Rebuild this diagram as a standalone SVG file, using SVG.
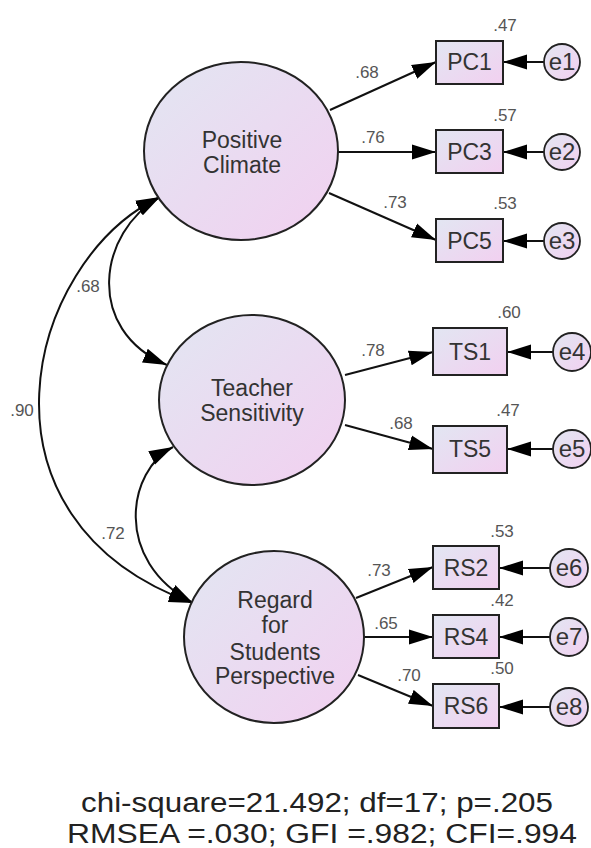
<svg xmlns="http://www.w3.org/2000/svg" width="591" height="848" viewBox="0 0 591 848">
<defs>
<linearGradient id="fillg" x1="0" y1="0" x2="1" y2="1">
<stop offset="0" stop-color="#e2e6f2"/>
<stop offset="1" stop-color="#f2d0f0"/>
</linearGradient>
<marker id="ah" markerUnits="userSpaceOnUse" markerWidth="24" markerHeight="16" refX="24" refY="8" orient="auto-start-reverse">
<path d="M0,0.5 L24,8 L0,15.5 z" fill="#000"/>
</marker>
</defs>
<style>
.lat{fill:url(#fillg);stroke:#222;stroke-width:2}
.obs{fill:url(#fillg);stroke:#222;stroke-width:2}
.err{fill:url(#fillg);stroke:#222;stroke-width:1.8}
.ln{fill:none;stroke:#111;stroke-width:2}
.lt{font-family:"Liberation Sans",Arial,sans-serif;font-size:23px;fill:#333;text-anchor:middle}
.bt{font-family:"Liberation Sans",Arial,sans-serif;font-size:23px;fill:#333;text-anchor:middle}
.et{font-family:"Liberation Sans",Arial,sans-serif;font-size:24px;fill:#333;text-anchor:middle}
.num{font-family:"Liberation Sans",Arial,sans-serif;font-size:17px;fill:#555;text-anchor:middle}
.fit{font-family:"Liberation Sans",Arial,sans-serif;font-size:27px;fill:#222;text-anchor:start}
</style>

<g id="connectors">
<path class="ln" marker-end="url(#ah)" d="M330,110 L436,62"/>
<path class="ln" marker-end="url(#ah)" d="M338,152 L436,152"/>
<path class="ln" marker-end="url(#ah)" d="M329,193 L436,240"/>
<path class="ln" marker-end="url(#ah)" d="M345,375 L433,352"/>
<path class="ln" marker-end="url(#ah)" d="M345,425 L433,449"/>
<path class="ln" marker-end="url(#ah)" d="M356,598 L433,567"/>
<path class="ln" marker-end="url(#ah)" d="M364,637 L433,637"/>
<path class="ln" marker-end="url(#ah)" d="M358,675 L433,706"/>
<path class="ln" marker-end="url(#ah)" d="M544,62 L503,62"/>
<path class="ln" marker-end="url(#ah)" d="M544,152 L503,152"/>
<path class="ln" marker-end="url(#ah)" d="M544,241 L503,241"/>
<path class="ln" marker-end="url(#ah)" d="M553,352 L507,352"/>
<path class="ln" marker-end="url(#ah)" d="M553,449 L507,449"/>
<path class="ln" marker-end="url(#ah)" d="M550,568 L499,568"/>
<path class="ln" marker-end="url(#ah)" d="M550,637 L499,637"/>
<path class="ln" marker-end="url(#ah)" d="M550,707 L499,707"/>
<path class="ln" marker-start="url(#ah)" marker-end="url(#ah)" d="M160,197 C98,232 84,330 167,365"/>
<path class="ln" marker-start="url(#ah)" marker-end="url(#ah)" d="M160,197 C25,262 -38,520 193,603"/>
<path class="ln" marker-start="url(#ah)" marker-end="url(#ah)" d="M173,447 C128,470 112,560 193,603"/>
<text class="num" x="367" y="78">.68</text>
<text class="num" x="373" y="143">.76</text>
<text class="num" x="395" y="208">.73</text>
<text class="num" x="373" y="356">.78</text>
<text class="num" x="401" y="429">.68</text>
<text class="num" x="379" y="576">.73</text>
<text class="num" x="386" y="629">.65</text>
<text class="num" x="409" y="681">.70</text>
<text class="num" x="88" y="292">.68</text>
<text class="num" x="22" y="416">.90</text>
<text class="num" x="113" y="539">.72</text>
</g>

<g id="PositiveClimate">
<ellipse class="lat" cx="241" cy="151" rx="97" ry="89"/>
<text class="lt" x="242" y="148">Positive</text>
<text class="lt" x="242" y="173">Climate</text>
</g>
<g id="TeacherSensitivity">
<ellipse class="lat" cx="252" cy="400" rx="93" ry="85"/>
<text class="lt" x="252" y="396">Teacher</text>
<text class="lt" x="252" y="421">Sensitivity</text>
</g>
<g id="RegardForStudentsPerspective">
<ellipse class="lat" cx="274" cy="637" rx="90" ry="86"/>
<text class="lt" x="275" y="608">Regard</text>
<text class="lt" x="275" y="633">for</text>
<text class="lt" x="275" y="660">Students</text>
<text class="lt" x="275" y="684">Perspective</text>
</g>

<g id="PC1"><rect class="obs" x="436" y="41" width="67" height="43"/><text class="bt" x="469.5" y="70">PC1</text><text class="num" x="505" y="31">.47</text></g>
<g id="PC3"><rect class="obs" x="436" y="130" width="67" height="43"/><text class="bt" x="469.5" y="160">PC3</text><text class="num" x="505" y="121">.57</text></g>
<g id="PC5"><rect class="obs" x="436" y="219" width="67" height="43"/><text class="bt" x="469.5" y="249">PC5</text><text class="num" x="505" y="209">.53</text></g>
<g id="TS1"><rect class="obs" x="433" y="328" width="74" height="47"/><text class="bt" x="470" y="360">TS1</text><text class="num" x="509" y="318">.60</text></g>
<g id="TS5"><rect class="obs" x="433" y="426" width="74" height="47"/><text class="bt" x="470" y="457">TS5</text><text class="num" x="508" y="416">.47</text></g>
<g id="RS2"><rect class="obs" x="433" y="546" width="66" height="43"/><text class="bt" x="466" y="576">RS2</text><text class="num" x="502" y="537">.53</text></g>
<g id="RS4"><rect class="obs" x="433" y="615" width="66" height="43"/><text class="bt" x="466" y="645">RS4</text><text class="num" x="502" y="606">.42</text></g>
<g id="RS6"><rect class="obs" x="433" y="684" width="66" height="44"/><text class="bt" x="466" y="714">RS6</text><text class="num" x="502" y="674">.50</text></g>

<g id="e1"><circle class="err" cx="562" cy="62" r="18"/><text class="et" x="562" y="70">e1</text></g>
<g id="e2"><circle class="err" cx="562" cy="152" r="18"/><text class="et" x="562" y="160">e2</text></g>
<g id="e3"><circle class="err" cx="562" cy="241" r="18"/><text class="et" x="562" y="249">e3</text></g>
<g id="e4"><circle class="err" cx="572" cy="352" r="19"/><text class="et" x="572" y="360">e4</text></g>
<g id="e5"><circle class="err" cx="572" cy="449" r="19"/><text class="et" x="572" y="457">e5</text></g>
<g id="e6"><circle class="err" cx="569" cy="568" r="19"/><text class="et" x="569" y="576">e6</text></g>
<g id="e7"><circle class="err" cx="569" cy="637" r="19"/><text class="et" x="569" y="645">e7</text></g>
<g id="e8"><circle class="err" cx="569" cy="707" r="19"/><text class="et" x="569" y="715">e8</text></g>

<g id="fit">
<text class="fit" x="81" y="812" textLength="472" lengthAdjust="spacingAndGlyphs">chi-square=21.492; df=17; p=.205</text>
<text class="fit" x="67" y="843" textLength="510" lengthAdjust="spacingAndGlyphs">RMSEA =.030; GFI =.982; CFI=.994</text>
</g>
</svg>
